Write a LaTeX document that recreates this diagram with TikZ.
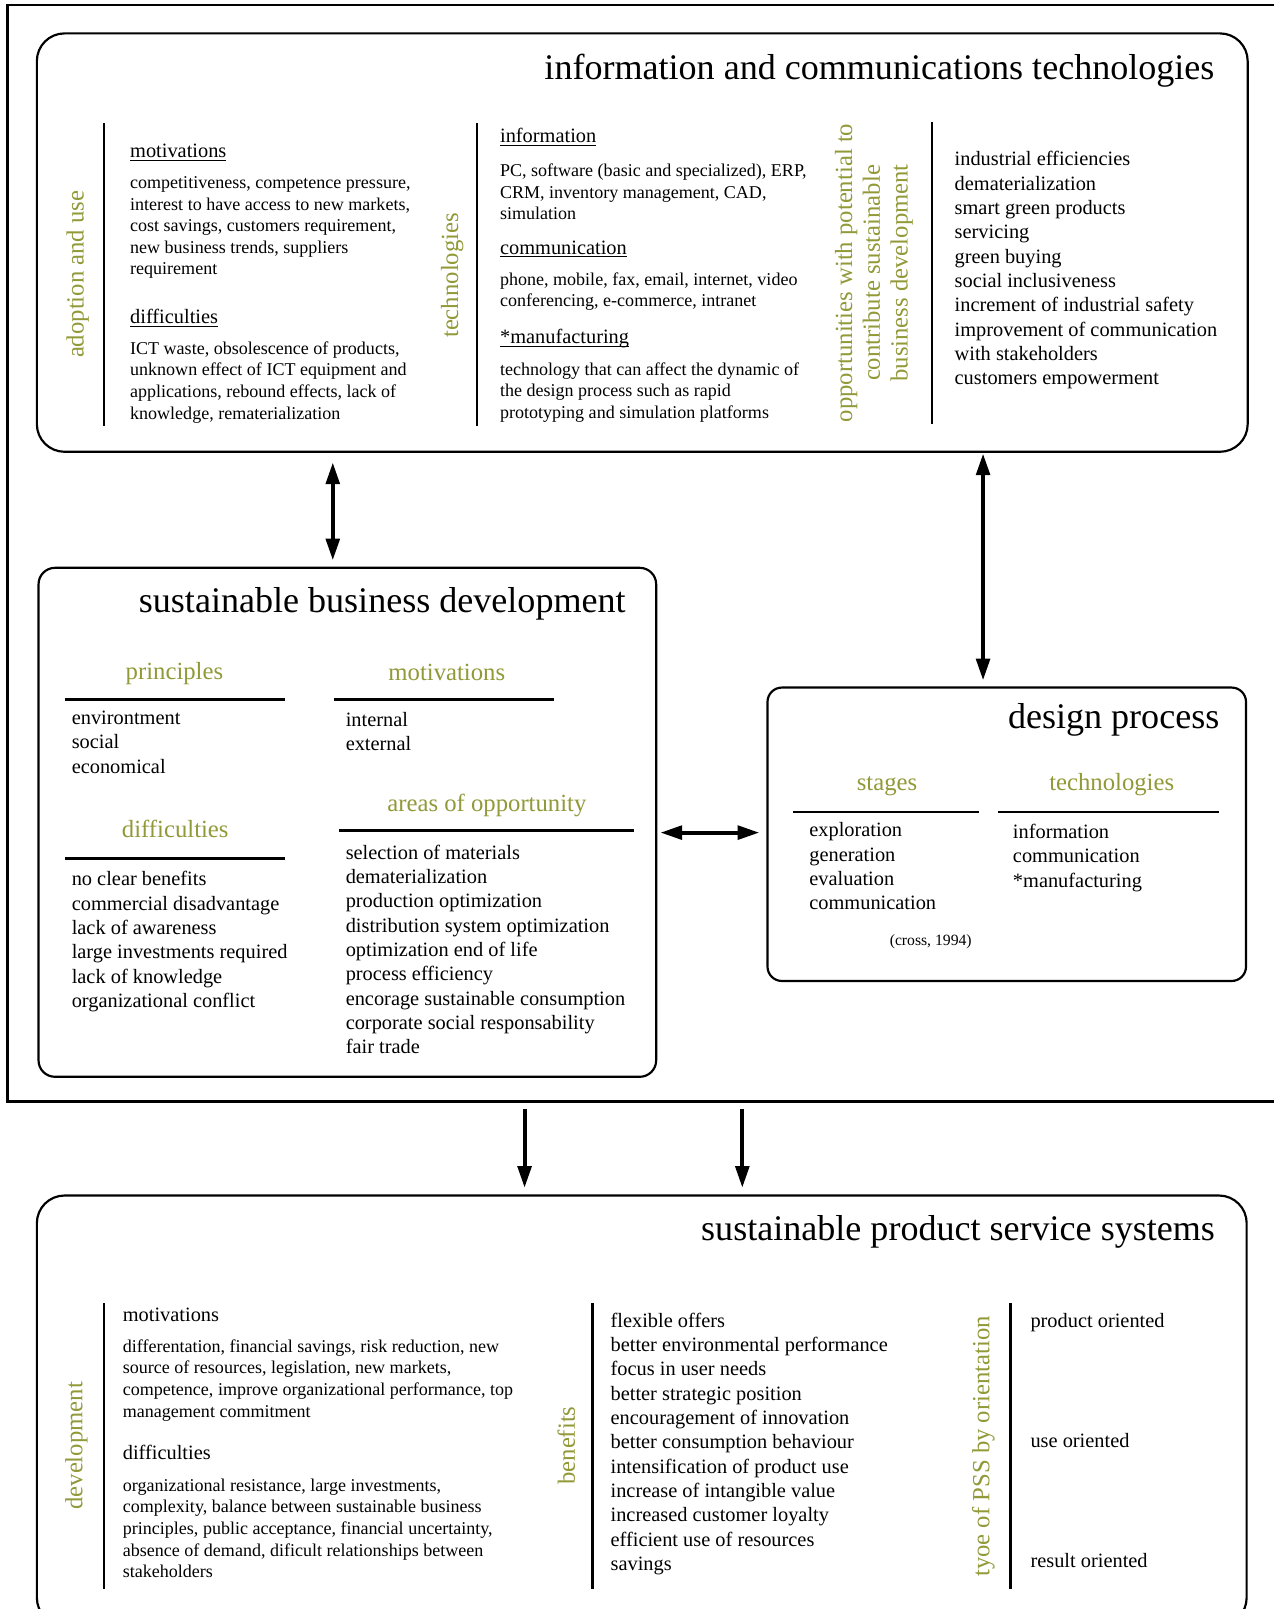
\documentclass[tikz,border=0pt]{standalone}
\usepackage{fontspec}
\setmainfont{Liberation Serif}
\usetikzlibrary{arrows.meta}
\definecolor{olivegreen}{RGB}{146,153,56}
\newcommand\ulc[1]{\underline{\smash{#1}}}
\newcommand\ml[1]{\begin{tabular}[t]{@{}l@{}}#1\end{tabular}}
\begin{document}
\begin{tikzpicture}[x=0.02cm,y=-0.02cm,
  box/.style={draw=black,line width=1.2pt,rectangle,inner sep=0pt},
  divider/.style={line width=1.3pt},
  hrule/.style={line width=1.5pt},
  frame/.style={line width=1.4pt},
  title/.style={font=\fontsize{20}{24}\selectfont,anchor=base east,inner sep=0pt},
  body/.style={font=\fontsize{10}{12}\selectfont,anchor=base west,inner sep=0pt},
  sub/.style={font=\fontsize{11.3}{13.5}\selectfont,anchor=base west,inner sep=0pt},
  lst/.style={font=\fontsize{11.3}{13.5}\selectfont,anchor=base west,inner sep=0pt},
  ghead/.style={text=olivegreen,font=\fontsize{13.7}{15.5}\selectfont,anchor=base,inner sep=0pt},
  gvert/.style={text=olivegreen,font=\fontsize{13.7}{15.4}\selectfont,rotate=90,align=center,inner sep=0pt,anchor=center},
  dbl/.style={line width=2.2pt,{Triangle[length=12pt,width=7.5pt]}-{Triangle[length=12pt,width=7.5pt]}},
  sgl/.style={line width=2.2pt,-{Triangle[length=12pt,width=7.5pt]}},
]
\useasboundingbox (0,0) rectangle (1241,1568);
\fill[white] (0,0) rectangle (1241,1568);

% outer frame
\draw[frame] (1300,4.9) -- (7.2,4.9) -- (7.2,1073.5) -- (1300,1073.5);

% boxes
\node[box,rounded corners=0.54cm,minimum width=23.604cm,minimum height=8.156cm] (ict) at (625.9,236.4) {};
\node[box,rounded corners=0.32cm,minimum width=12.04cm,minimum height=9.922cm] (sbd) at (338.5,801.35) {};
\node[box,rounded corners=0.28cm,minimum width=9.328cm,minimum height=5.72cm] (dp) at (981.1,813) {};
\node[box,rounded corners=0.54cm,minimum width=23.584cm,minimum height=8.38cm] (pss) at (625.4,1374.5) {};

% ---------------- ICT ----------------
\node[title] (ictT) at (1183.8,77.3) {information and communications technologies};
\node[gvert] (ictG1) at (75.6,267.3) {adoption and use};
\draw[divider] (101.4,120.2) -- (101.4,415.3);
\node[sub] (ictM) at (126.5,153.7) {\ulc{motivations}};
\node[body] (ictMb) at (126.5,183.6) {\ml{competitiveness, competence pressure,\\interest to have access to new markets,\\cost savings, customers requirement,\\new business trends, suppliers\\requirement}};
\node[sub] (ictD) at (126.5,315.2) {\ulc{difficulties}};
\node[body] (ictDb) at (126.5,345.1) {\ml{ICT waste, obsolescence of products,\\unknown effect of ICT equipment and\\applications, rebound effects, lack of\\knowledge, rematerialization}};
\node[gvert] (ictG2) at (440.8,268.4) {technologies};
\draw[divider] (464.7,120.2) -- (464.7,415.3);
\node[sub] (ictI) at (487,139.1) {\ulc{information}};
\node[body] (ictIb) at (487,172.2) {\ml{PC, software (basic and specialized), ERP,\\CRM, inventory management, CAD,\\simulation}};
\node[sub] (ictC) at (487,247.6) {\ulc{communication}};
\node[body] (ictCb) at (487,277.8) {\ml{phone, mobile, fax, email, internet, video\\conferencing, e-commerce, intranet}};
\node[sub] (ictF) at (487,334.7) {\ulc{*manufacturing}};
\node[body] (ictFb) at (487,365.6) {\ml{technology that can affect the dynamic of\\the design process such as rapid\\prototyping and simulation platforms}};
\node[gvert] (ictG3) at (851.7,266) {opportunities with potential to\\contribute sustainable\\business development};
\draw[divider] (908,118.6) -- (908,413.3);
\node[lst] (ictO) at (930,161.5) {\ml{industrial efficiencies\\dematerialization\\smart green products\\servicing\\green buying\\social inclusiveness\\increment of industrial safety\\improvement of communication\\with stakeholders\\customers empowerment}};

% ---------------- SBD ----------------
\node[title] (sbdT) at (610,597) {sustainable business development};
\node[ghead] (sbdP) at (170,661.7) {principles};
\draw[hrule] (63.3,681.9) -- (277.8,681.9);
\node[ghead] (sbdM) at (435.4,663.4) {motivations};
\draw[hrule] (325,681.9) -- (539.5,681.9);
\node[lst] (sbdPl) at (69.6,706) {\ml{environtment\\social\\economical}};
\node[lst] (sbdMl) at (336.6,708) {\ml{internal\\external}};
\node[ghead] (sbdA) at (474.5,791) {areas of opportunity};
\draw[hrule] (330.4,809.4) -- (617.8,809.4);
\node[ghead] (sbdD) at (170.8,816.2) {difficulties};
\draw[hrule] (63.3,836.3) -- (277.8,836.3);
\node[lst] (sbdDl) at (69.6,863.1) {\ml{no clear benefits\\commercial disadvantage\\lack of awareness\\large investments required\\lack of knowledge\\organizational conflict}};
\node[lst] (sbdAl) at (336.6,837.3) {\ml{selection of materials\\dematerialization\\production optimization\\distribution system optimization\\optimization end of life\\process efficiency\\encorage sustainable consumption\\corporate social responsability\\fair trade}};

% ---------------- design process ----------------
\node[title] (dpT) at (1188.6,710) {design process};
\node[ghead] (dpS) at (864.4,770) {stages};
\draw[hrule] (772.7,791.3) -- (954.5,791.3);
\node[ghead] (dpTe) at (1083.4,770.8) {technologies};
\draw[hrule] (972.6,791.3) -- (1187.5,791.3);
\node[lst] (dpSl) at (788.4,815.6) {\ml{exploration\\generation\\evaluation\\communication}};
\node[lst] (dpTl) at (986.8,817.2) {\ml{information\\communication\\{*}manufacturing}};
\node[font=\fontsize{8.7}{10}\selectfont,anchor=base,inner sep=0pt] (dpC) at (907,921.2) {(cross, 1994)};

% ---------------- PSS ----------------
\node[title] (pssT) at (1184.3,1208.8) {sustainable product service systems};
\node[gvert] (pssG1) at (74.4,1409) {development};
\draw[divider] (101.4,1270) -- (101.4,1548.4);
\node[sub] (pssM) at (119.4,1287.5) {motivations};
\node[body] (pssMb) at (119.4,1317.7) {\ml{differentation, financial savings, risk reduction, new\\source of resources, legislation, new markets,\\competence, improve organizational performance, top\\management commitment}};
\node[sub] (pssD) at (119.4,1422.6) {difficulties};
\node[body] (pssDb) at (119.4,1453.2) {\ml{organizational resistance, large investments,\\complexity, balance between sustainable business\\principles, public acceptance, financial uncertainty,\\absence of demand, dificult relationships between\\stakeholders}};
\node[gvert] (pssG2) at (551.8,1408.7) {benefits};
\draw[divider] (577.5,1270) -- (577.5,1548.4);
\node[lst] (pssB) at (594.7,1293.3) {\ml{flexible offers\\better environmental performance\\focus in user needs\\better strategic position\\encouragement of innovation\\better consumption behaviour\\intensification of product use\\increase of intangible value\\increased customer loyalty\\efficient use of resources\\savings}};
\node[gvert] (pssG3) at (958.2,1409.5) {tyoe of PSS by orientation};
\draw[divider] (984.8,1270) -- (984.8,1548.4);
\node[sub] (pssO1) at (1003.9,1293.3) {product oriented};
\node[sub] (pssO2) at (1003.9,1410.3) {use oriented};
\node[sub] (pssO3) at (1003.9,1527.3) {result oriented};

% ---------------- arrows ----------------
\coordinate (a1t) at (324.3,450.7); \coordinate (a1b) at (324.3,546);
\coordinate (a2t) at (958,442);     \coordinate (a2b) at (958,663);
\coordinate (a3l) at (643.6,811.4); \coordinate (a3r) at (740,811.4);
\coordinate (a4t) at (511.2,1080.5); \coordinate (a4b) at (511.2,1157.5);
\coordinate (a5t) at (723.4,1080.5); \coordinate (a5b) at (723.4,1157.5);
\draw[dbl] (a1t) -- (a1b);
\draw[dbl] (a2t) -- (a2b);
\draw[dbl] (a3l) -- (a3r);
\draw[sgl] (a4t) -- (a4b);
\draw[sgl] (a5t) -- (a5b);
\end{tikzpicture}
\end{document}
